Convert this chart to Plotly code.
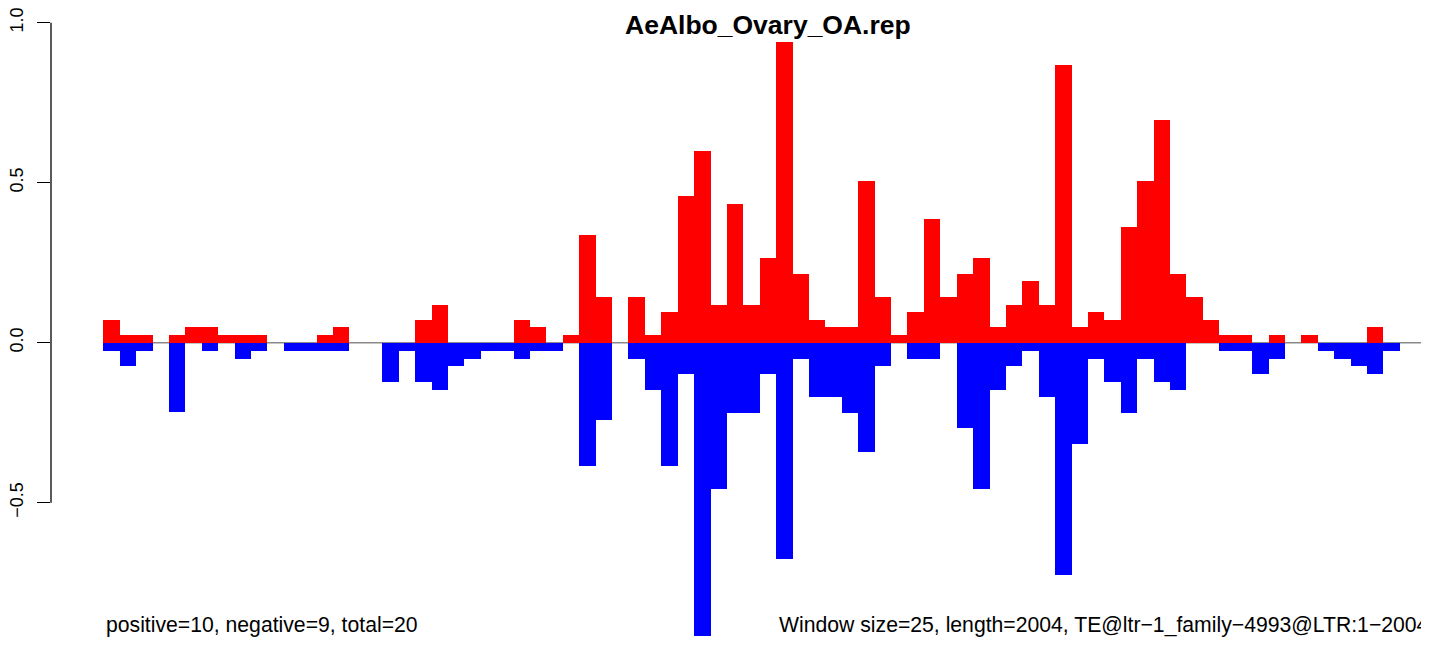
import plotly.graph_objects as go

# window index along the TE (window size 25, 79 windows)
windows = list(range(79))

# sense (red) and antisense (blue) normalized counts per window
pos_vals = [0.072, 0.023, 0.023, 0, 0.023, 0.048, 0.048, 0.023, 0.023, 0.023,
            0, 0, 0, 0.023, 0.048, 0, 0, 0, 0, 0.072,
            0.119, 0, 0, 0, 0, 0.072, 0.048, 0, 0.023, 0.336,
            0.144, 0, 0.144, 0.023, 0.097, 0.457, 0.600, 0.119, 0.433, 0.119,
            0.265, 0.939, 0.215, 0.072, 0.048, 0.048, 0.504, 0.144, 0.023, 0.097,
            0.386, 0.144, 0.215, 0.265, 0.048, 0.119, 0.193, 0.119, 0.867, 0.048,
            0.097, 0.072, 0.361, 0.504, 0.697, 0.215, 0.144, 0.072, 0.023, 0.023,
            0, 0.023, 0, 0.023, 0, 0, 0, 0.048, 0]

neg_vals = [0.026, 0.072, 0.026, 0, 0.218, 0, 0.026, 0, 0.052, 0.026,
            0, 0.026, 0.026, 0.026, 0.026, 0, 0, 0.122, 0.026, 0.122,
            0.147, 0.072, 0.052, 0.026, 0.026, 0.052, 0.026, 0.026, 0, 0.386,
            0.243, 0, 0.052, 0.147, 0.386, 0.097, 0.916, 0.458, 0.219, 0.219,
            0.097, 0.675, 0.051, 0.169, 0.169, 0.219, 0.340, 0.073, 0, 0.051,
            0.051, 0, 0.265, 0.458, 0.147, 0.073, 0.026, 0.169, 0.725, 0.315,
            0.051, 0.122, 0.219, 0.051, 0.122, 0.147, 0, 0, 0.026, 0.026,
            0.097, 0.051, 0, 0, 0.026, 0.051, 0.073, 0.097, 0.026]

y_ticks = [-0.5, 0.0, 0.5, 1.0]
y_tick_text = ["\u22120.5", "0.0", "0.5", "1.0"]

title = "AeAlbo_Ovary_OA.rep"
left_note = "positive=10, negative=9, total=20"
right_note = "Window size=25, length=2004, TE@ltr\u22121_family\u22124993@LTR:1\u22122004"

FONT = "Liberation Sans, Arial, Helvetica, sans-serif"

# the page body has an 8px margin, so the figure sits at (8, 8) in the window;
# keep it small enough that no scrollbars show up
OFF = 8
W, H = 1429 - OFF, 645 - 2 * OFF
ML = 51 - OFF
PW = W - ML
x_range = [-3.687, 80.28]
y_top = (342.7 - OFF) / 320
y_range = [y_top - H / 320, y_top]


def px(xp):
    # window pixel -> paper x
    return (xp - OFF - ML) / PW


def py(yp):
    # window pixel -> paper y
    return 1 - (yp - OFF) / H


fig = go.Figure()
fig.add_trace(go.Bar(x=windows, y=pos_vals, width=1,
                     marker=dict(color="#FF0000", line=dict(width=0)),
                     hoverinfo="skip"))
fig.add_trace(go.Bar(x=windows, y=[-v for v in neg_vals], width=1,
                     marker=dict(color="#0000FF", line=dict(width=0)),
                     hoverinfo="skip"))

# zero line starts at the first window
fig.add_shape(type="line", xref="x", yref="y", x0=-0.5, x1=x_range[1], y0=0, y1=0,
              line=dict(color="#8a8a8a", width=1.5), layer="below")
# R style axis line, only between the end ticks
fig.add_shape(type="line", xref="paper", yref="y", x0=0, x1=0, y0=-0.5, y1=1.0,
              line=dict(color="black", width=1.3))

# title as high as it can go while staying fully visible
fig.add_annotation(text="<b>" + title + "</b>", xref="paper", yref="paper",
                   x=px(768), y=1, xanchor="center", yanchor="top",
                   showarrow=False, font=dict(family=FONT, size=26.5, color="black"))
# notes sit a little higher so the figure's bottom edge doesn't clip them
fig.add_annotation(text=left_note, xref="paper", yref="paper",
                   x=px(104), y=py(624.5), xanchor="left", yanchor="middle",
                   showarrow=False, font=dict(family=FONT, size=21.2, color="black"))
fig.add_annotation(text=right_note, xref="paper", yref="paper",
                   x=px(1431), y=py(624.5), xanchor="right", yanchor="middle",
                   showarrow=False, font=dict(family=FONT, size=21.2, color="black"))

fig.update_layout(
    width=W, height=H,
    margin=dict(l=ML, r=0, t=0, b=0),
    barmode="overlay", bargap=0,
    showlegend=False,
    plot_bgcolor="white", paper_bgcolor="white",
    xaxis=dict(range=x_range, visible=False, fixedrange=True),
    yaxis=dict(range=y_range, showgrid=False, zeroline=False, showline=False,
               tickmode="array", tickvals=y_ticks, ticktext=y_tick_text,
               ticks="outside", ticklen=13, tickwidth=1.3, tickcolor="black",
               tickangle=-90, ticklabelstandoff=7, ticklabeloverflow="allow",
               automargin=False,
               tickfont=dict(family=FONT, size=18, color="black")),
)

fig.write_html("out.html")
